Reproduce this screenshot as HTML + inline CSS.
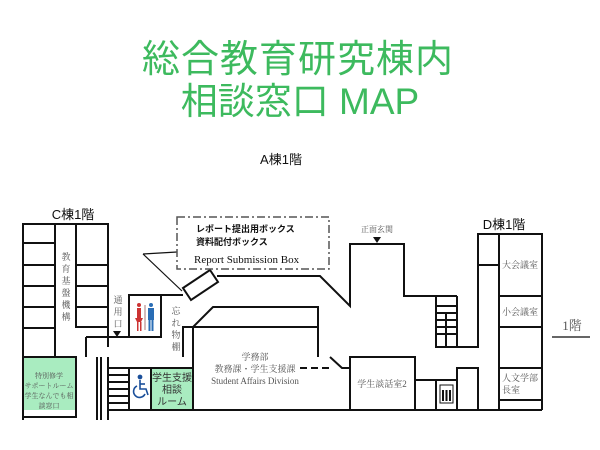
<!DOCTYPE html>
<html><head><meta charset="utf-8"><style>
html,body{margin:0;padding:0;background:#fff;width:600px;height:450px;overflow:hidden}
svg{display:block}
.t{font-family:"Liberation Sans","Noto Sans CJK JP",sans-serif}
.s{font-family:"Liberation Serif","Noto Serif CJK SC",serif;fill:#555}
</style></head><body>
<svg width="600" height="450" viewBox="0 0 600 450">
<text x="298" y="72" text-anchor="middle" class="t" font-size="38" fill="#3dba5e" letter-spacing="1">総合教育研究棟内</text>
<text x="300" y="114" text-anchor="middle" class="t" font-size="37" fill="#3dba5e">相談窓口 MAP</text>
<text x="281" y="164" text-anchor="middle" class="t" font-size="13" fill="#111">A棟1階</text>
<text x="73" y="219" text-anchor="middle" class="t" font-size="13" fill="#111">C棟1階</text>
<text x="504" y="229" text-anchor="middle" class="t" font-size="13" fill="#111">D棟1階</text>
<text x="572" y="330" text-anchor="middle" class="s" font-size="13" fill="#333">1階</text>
<line x1="552" y1="337" x2="590" y2="337" stroke="#333" stroke-width="1.5"/>
<rect x="23" y="357" width="53" height="53" fill="#a9ecc0"/>
<rect x="151" y="368" width="42" height="42" fill="#a9ecc0"/>
<g stroke="#111" stroke-width="2" fill="none">
<polyline points="23,420 23,224 108,224 108,347"/>
<line x1="55" y1="224" x2="55" y2="357"/>
<polyline points="76,224 76,327 108,327"/>
<line x1="23" y1="243" x2="55" y2="243"/><line x1="23" y1="265" x2="55" y2="265"/>
<line x1="23" y1="286" x2="55" y2="286"/><line x1="23" y1="307" x2="55" y2="307"/>
<line x1="23" y1="328" x2="55" y2="328"/>
<line x1="76" y1="265" x2="108" y2="265"/><line x1="76" y1="286" x2="108" y2="286"/>
<line x1="76" y1="307" x2="108" y2="307"/>
<rect x="23" y="357" width="53" height="60"/>
<line x1="86" y1="337" x2="86" y2="357"/><line x1="86" y1="337" x2="108" y2="337"/>
<line x1="97" y1="357" x2="97" y2="420"/><line x1="101" y1="357" x2="101" y2="420"/>
<line x1="108" y1="357" x2="108" y2="420"/>
<polyline points="97,337 161,337 161,295 129,295 129,337"/>
<line x1="161" y1="295" x2="183" y2="295"/>
<polygon points="183,288 210,270 218,282 191,300"/>
<line x1="143" y1="254" x2="182" y2="291" stroke-width="1.2"/>
<line x1="143" y1="254" x2="177" y2="252" stroke-width="1.2"/>
<rect x="177" y="217" width="152" height="52" stroke="#555" stroke-width="1.5" stroke-dasharray="8,3,2,3"/>
<polyline points="217,276 320,276 350,306 350,244 404,244 404,296 457,296"/>
<polyline points="436,296 436,347 478,347 478,234 542,234 542,410"/>
<line x1="457" y1="296" x2="457" y2="347"/>
<line x1="436" y1="306" x2="457" y2="306"/><line x1="436" y1="313" x2="457" y2="313"/>
<line x1="436" y1="320" x2="457" y2="320"/><line x1="436" y1="327" x2="457" y2="327"/>
<line x1="436" y1="334" x2="457" y2="334"/><line x1="446" y1="313" x2="446" y2="347"/>
<line x1="499" y1="234" x2="499" y2="410"/>
<line x1="478" y1="265" x2="499" y2="265"/>
<line x1="499" y1="296" x2="542" y2="296"/><line x1="499" y1="327" x2="542" y2="327"/>
<line x1="499" y1="368" x2="542" y2="368"/><line x1="499" y1="400" x2="542" y2="400"/>
<line x1="478" y1="410" x2="542" y2="410" stroke-dasharray="2,2"/>
<polyline points="478,410 478,368 457,368 457,410"/>
<polyline points="193,410 193,327 213,307 318,307 318,357"/>
<line x1="193" y1="327" x2="318" y2="327"/>
<polyline points="183,357 183,327 193,327"/>
<line x1="108" y1="368" x2="193" y2="368"/>
<line x1="129" y1="368" x2="129" y2="410"/><line x1="151" y1="368" x2="151" y2="410"/>
<line x1="108" y1="375" x2="129" y2="375"/><line x1="108" y1="382" x2="129" y2="382"/>
<line x1="108" y1="389" x2="129" y2="389"/><line x1="108" y1="396" x2="129" y2="396"/>
<line x1="108" y1="403" x2="129" y2="403"/>
<line x1="300" y1="368" x2="330" y2="368" stroke-dasharray="7,4"/>
<polyline points="330,357 342,368 350,368"/>
<rect x="350" y="357" width="65" height="53"/>
<polyline points="415,380 457,380"/><line x1="436" y1="380" x2="436" y2="410"/>
<line x1="108" y1="410" x2="542" y2="410"/>
</g>
<polygon points="113,331 121,331 117,337" fill="#111"/>
<polygon points="373,237 381,237 377,243" fill="#111"/>
<circle cx="139" cy="305" r="2" fill="#c33"/><rect x="137" y="308" width="4" height="10" fill="#c33"/><polygon points="135,318 143,318 141,322 137,322" fill="#c33"/><rect x="137" y="322" width="1.5" height="9" fill="#c33"/><rect x="140" y="322" width="1.5" height="9" fill="#c33"/>
<line x1="145" y1="305" x2="145" y2="330" stroke="#a77" stroke-width="1"/>
<circle cx="151" cy="305" r="2" fill="#2a6db5"/><rect x="148" y="308" width="6" height="12" fill="#2a6db5"/><rect x="148.5" y="320" width="2" height="11" fill="#2a6db5"/><rect x="151.5" y="320" width="2" height="11" fill="#2a6db5"/>
<!-- wheelchair -->
<g stroke="#1a4f9a" stroke-width="1.6" fill="none">
<circle cx="140" cy="377" r="1.6" fill="#1a4f9a"/>
<polyline points="140,380 140,389 146,389 148,395"/>
<line x1="140" y1="384" x2="145" y2="384"/>
<path d="M137,386 A6,6 0 1 0 145,394"/>
</g>
<rect x="440" y="385" width="13" height="18" fill="none" stroke="#111"/>
<g fill="#111"><rect x="442" y="390" width="2" height="11"/><rect x="445.5" y="390" width="2" height="11"/><rect x="449" y="390" width="2" height="11"/></g>
<g class="s" font-size="9">
<text x="66" y="260" text-anchor="middle">教</text><text x="66" y="272" text-anchor="middle">育</text><text x="66" y="284" text-anchor="middle">基</text><text x="66" y="296" text-anchor="middle">盤</text><text x="66" y="308" text-anchor="middle">機</text><text x="66" y="320" text-anchor="middle">構</text>
<text x="118" y="303" text-anchor="middle">通</text><text x="118" y="315" text-anchor="middle">用</text><text x="118" y="327" text-anchor="middle">口</text>
<text x="176" y="314" text-anchor="middle">忘</text><text x="176" y="326" text-anchor="middle">れ</text><text x="176" y="338" text-anchor="middle">物</text><text x="176" y="350" text-anchor="middle">棚</text>
<text x="377" y="232" text-anchor="middle" font-size="8">正面玄関</text>
<text x="255" y="360" text-anchor="middle">学務部</text>
<text x="255" y="372" text-anchor="middle">教務課・学生支援課</text>
<text x="255" y="384" text-anchor="middle">Student Affairs Division</text>
<text x="382" y="387" text-anchor="middle">学生談話室2</text>
<text x="520" y="268" text-anchor="middle">大会議室</text>
<text x="520" y="315" text-anchor="middle">小会議室</text>
<text x="502" y="381">人文学部</text><text x="502" y="393">長室</text>
</g>
<g class="s" font-size="7" fill="#333">
<text x="49" y="378" text-anchor="middle">特別修学</text>
<text x="49" y="388" text-anchor="middle">サポートルーム</text>
<text x="49" y="398" text-anchor="middle">学生なんでも相</text>
<text x="49" y="408" text-anchor="middle">談窓口</text>
</g>
<g class="t" font-size="10" fill="#333">
<text x="172" y="381" text-anchor="middle">学生支援</text>
<text x="172" y="393" text-anchor="middle">相談</text>
<text x="172" y="405" text-anchor="middle">ルーム</text>
</g>
<g class="t" font-size="9" font-weight="bold" fill="#111">
<text x="196" y="232">レポート提出用ボックス</text>
<text x="196" y="245">資料配付ボックス</text>
</g>
<text x="194" y="263" class="s" font-size="11" style="fill:#111">Report Submission Box</text>
</svg>
</body></html>
